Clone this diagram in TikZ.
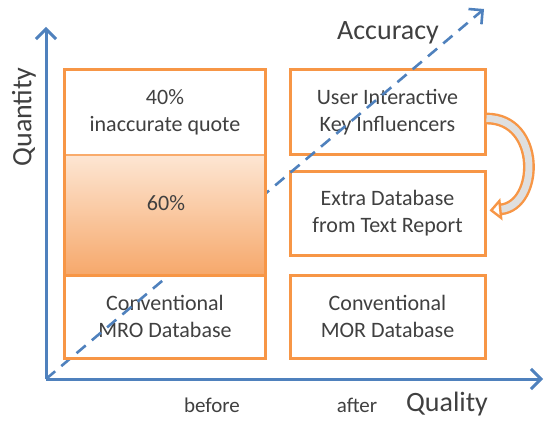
\documentclass[tikz,border=0pt]{standalone}
\usepackage{fontspec}
\setmainfont{Carlito}
\usetikzlibrary{arrows.meta}
\definecolor{boxorange}{HTML}{F79646}
\definecolor{axisblue}{HTML}{4F81BD}
\definecolor{textgray}{HTML}{404040}
\definecolor{shadetop}{HTML}{FDE6D3}
\definecolor{shadebottom}{HTML}{F6A86B}
\newcommand{\boxfont}{\fontsize{11}{13.5}\selectfont}
\newcommand{\axisfont}{\fontsize{14}{16}\selectfont}
\newcommand{\tagfont}{\fontsize{10.5}{12}\selectfont}

\begin{document}
\begin{tikzpicture}[x=0.5pt,y=-0.5pt,
  every node/.style={text=textgray},
  part/.style={fill=white,align=center,font=\boxfont,inner sep=0pt,minimum width=100pt},
  dbbox/.style={part,draw=boxorange,line width=1.5pt,minimum width=97.5pt},
  frame/.style={draw=boxorange,line width=1.5pt},
  share/.style={top color=shadetop,bottom color=shadebottom,draw=boxorange!80,line width=0.6pt,minimum width=100pt,minimum height=60pt},
  axis/.style={draw=axisblue,line width=1.5pt,-{Straight Barb[length=5pt,width=10pt]}},
  trend/.style={axis,line width=1.3pt,dash pattern=on 6pt off 4pt},
  feedback/.style={draw=boxorange,line width=1.2pt,double=gray!25,double distance=3.5pt,-{Triangle[fill=white,length=6pt,width=11pt]}}
]
\useasboundingbox (0,0) rectangle (545,422);

\coordinate (origin) at (46,379);
\coordinate (ytop) at (46,27);
\coordinate (xend) at (543,379);
\coordinate (trendend) at (484,9);

% before
\node[part,minimum height=42.5pt] (quote) at (165,112.5) {40\%\\inaccurate quote};
\node[part,minimum height=41.5pt] (mro) at (165,316.5) {Conventional\\MRO Database};

% after
\node[dbbox,minimum height=42.5pt] (user) at (387.5,112.5) {User Interactive\\Key Influencers};
\node[dbbox,minimum height=41.5pt] (extra) at (387.5,213.5) {Extra Database\\from Text Report};
\node[dbbox,minimum height=41.5pt] (mor) at (387.5,316.5) {Conventional\\MOR Database};

\path
(origin) edge [axis] (ytop)
(origin) edge [axis] (xend)
(origin) edge [trend] (trendend)
;

\node[share] (sharebox) at (165,215) {};
\node[font=\boxfont] (sharetext) at (166,203) {60\%};
\draw[frame] (quote.north west) rectangle (mro.south east);
\draw[frame] (sharebox.south west) -- (sharebox.south east);

\draw[feedback] ([yshift=-3pt]user.east) .. controls +(55,0) and +(50,-5) .. ([xshift=1.5pt,yshift=1.5pt]extra.east);

\node[font=\axisfont,rotate=90] (quantity) at (24,117) {Quantity};
\node[font=\axisfont] (accuracy) at (388,33) {Accuracy};
\node[font=\axisfont] (quality) at (447,404) {Quality};
\node[font=\tagfont] (before) at (212,405) {before};
\node[font=\tagfont] (after) at (357,405) {after};

\end{tikzpicture}
\end{document}
